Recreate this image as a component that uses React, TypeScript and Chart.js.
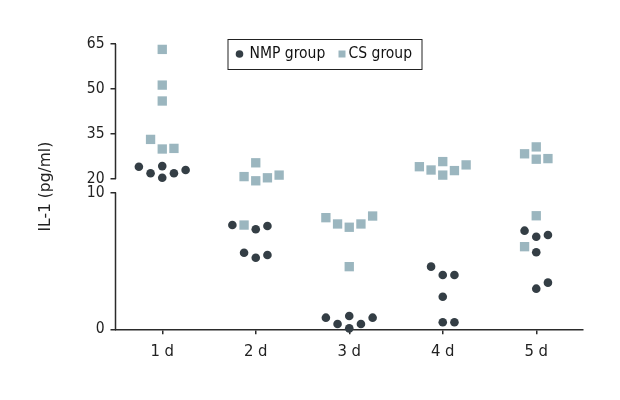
import React, { useEffect, useRef } from "react";
import { Chart, registerables } from "chart.js";

Chart.register(...registerables);

const days = ["1 d", "2 d", "3 d", "4 d", "5 d"];
const upperTicks = [20, 35, 50, 65];
const lowerTicks = [0, 10];
const yTitle = "IL-1 (pg/ml)";
const nmpLabel = "NMP group";
const csLabel = "CS group";

// values per day (pg/ml)
const nmpValues = [
  [24.1, 21.9, 24.3, 20.4, 21.9, 23.0],
  [7.62, 7.31, 7.55, 5.6, 5.23, 5.43],
  [0.85, 0.39, 0.97, 0.07, 0.39, 0.85],
  [4.58, 3.97, 3.97, 2.38, 0.51, 0.51],
  [7.21, 6.77, 6.89, 5.63, 2.97, 3.41],
];
// horizontal jitter within each day (in day units)
const nmpJitter = [
  [-0.25, -0.125, 0, 0, 0.125, 0.25],
  [-0.25, 0, 0.125, -0.125, 0, 0.125],
  [-0.25, -0.125, 0, 0, 0.125, 0.25],
  [-0.125, 0, 0.125, 0, 0, 0.125],
  [-0.125, 0, 0.125, 0, 0, 0.125],
];
const csValues = [
  [63.2, 51.3, 46.0, 33.2, 30.0, 30.2],
  [25.4, 20.8, 19.4, 20.4, 21.3, 7.62],
  [8.16, 7.7, 7.46, 7.7, 8.28, 4.58],
  [24.1, 23.0, 25.8, 21.3, 22.8, 24.7],
  [28.4, 30.7, 26.6, 26.8, 8.3, 6.04],
];
const csJitter = [
  [0, 0, 0, -0.125, 0, 0.125],
  [0, -0.125, 0, 0.125, 0.25, -0.125],
  [-0.25, -0.125, 0, 0.125, 0.25, 0],
  [-0.25, -0.125, 0, 0, 0.125, 0.25],
  [-0.125, 0, 0, 0.125, 0, -0.125],
];

const BREAK = 14; // values above this belong to the upper segment
const NMP_COLOR = "#343e45";
const CS_COLOR = "#9bb6bf";
const AXIS_COLOR = "#2b2b2b";
const COND = "'DejaVu Sans Condensed', sans-serif";
const REG = "'DejaVu Sans', sans-serif";

function points(values: number[][], jitter: number[][], upper: boolean) {
  const out: { x: number; y: number }[] = [];
  values.forEach((row, d) =>
    row.forEach((v, i) => {
      if (upper === v > BREAK) out.push({ x: d + 1 + jitter[d][i], y: v });
    })
  );
  return out;
}

const decorPlugin = {
  id: "decor",
  afterDraw(chart: any) {
    const { ctx, chartArea, scales } = chart;
    const up = scales.yTop;
    const lo = scales.yBot;
    const x = chartArea.left;
    ctx.save();
    ctx.strokeStyle = AXIS_COLOR;
    ctx.lineWidth = 1.5;
    ctx.beginPath();
    ctx.moveTo(x, up.getPixelForValue(upperTicks[upperTicks.length - 1]));
    ctx.lineTo(x, up.getPixelForValue(upperTicks[0]));
    ctx.moveTo(x, lo.getPixelForValue(lowerTicks[lowerTicks.length - 1]));
    ctx.lineTo(x, lo.getPixelForValue(lowerTicks[0]));
    ctx.stroke();

    // y title
    ctx.fillStyle = "#222";
    ctx.font = "15.5px " + REG;
    ctx.textAlign = "center";
    ctx.textBaseline = "middle";
    ctx.translate(x - 70, (chartArea.top + chartArea.bottom) / 2);
    ctx.rotate(-Math.PI / 2);
    ctx.fillText(yTitle, 0, 0);
    ctx.restore();

    // legend
    ctx.save();
    const bx = chartArea.left + 112;
    const by = chartArea.top - 5;
    const bw = 194;
    const bh = 30;
    ctx.fillStyle = "#fff";
    ctx.fillRect(bx, by, bw, bh);
    ctx.strokeStyle = "#222";
    ctx.lineWidth = 1;
    ctx.strokeRect(bx + 0.5, by + 0.5, bw, bh);
    const cy = by + bh / 2;
    ctx.fillStyle = NMP_COLOR;
    ctx.beginPath();
    ctx.arc(bx + 12, cy, 3.8, 0, Math.PI * 2);
    ctx.fill();
    ctx.fillStyle = CS_COLOR;
    ctx.fillRect(bx + 111, cy - 3.5, 7, 7);
    ctx.fillStyle = "#111";
    ctx.font = "15.5px " + COND;
    ctx.textAlign = "left";
    ctx.textBaseline = "middle";
    ctx.fillText(nmpLabel, bx + 22, cy);
    ctx.fillText(csLabel, bx + 121, cy);
    ctx.restore();
  },
};

export default function App() {
  const ref = useRef<HTMLCanvasElement>(null);
  useEffect(() => {
    document.body.style.margin = "0";
    const dotStyle = {
      type: "scatter" as const,
      backgroundColor: NMP_COLOR,
      borderWidth: 0,
      pointRadius: 4.3,
      pointStyle: "circle",
      clip: false,
    };
    const sqStyle = {
      type: "scatter" as const,
      backgroundColor: CS_COLOR,
      borderWidth: 0,
      pointRadius: 6.6,
      pointStyle: "rect",
      clip: false,
    };
    const yFont = { family: COND, size: 15.5 };
    const xFont = { family: COND, size: 16.5 };
    const chart = new Chart(ref.current!, {
      type: "scatter",
      data: {
        datasets: [
          { ...sqStyle, label: csLabel, data: points(csValues, csJitter, true), yAxisID: "yTop" },
          { ...sqStyle, label: csLabel, data: points(csValues, csJitter, false), yAxisID: "yBot" },
          { ...dotStyle, label: nmpLabel, data: points(nmpValues, nmpJitter, true), yAxisID: "yTop" },
          { ...dotStyle, label: nmpLabel, data: points(nmpValues, nmpJitter, false), yAxisID: "yBot" },
        ] as any,
      },
      options: {
        animation: false,
        responsive: false,
        layout: { padding: { left: 0, right: 37, top: 44, bottom: 0 } },
        plugins: { legend: { display: false }, tooltip: { enabled: false } },
        scales: {
          x: {
            type: "linear",
            min: 0.5,
            max: 5.5,
            afterBuildTicks: (s: any) => {
              s.ticks = days.map((_, i) => ({ value: i + 1 }));
            },
            afterFit: (s: any) => {
              s.height = 70.7;
            },
            ticks: {
              autoSkip: false,
              maxRotation: 0,
              padding: 8,
              color: "#222",
              font: xFont,
              callback: (v: any) => days[Math.round(v) - 1],
            },
            grid: { drawOnChartArea: false, drawTicks: true, tickLength: 5, color: AXIS_COLOR, lineWidth: 1.5 },
            border: { display: true, color: AXIS_COLOR, width: 1.5 },
          },
          yBot: {
            type: "linear",
            position: "left",
            stack: "ybreak",
            stackWeight: 136.8,
            min: 0,
            max: 10,
            afterBuildTicks: (s: any) => {
              s.ticks = lowerTicks.map((v) => ({ value: v }));
            },
            afterFit: (s: any) => {
              s.width = 115.5;
            },
            ticks: { padding: 6, color: "#222", font: yFont, autoSkip: false },
            grid: { drawOnChartArea: false, drawTicks: true, tickLength: 5, color: AXIS_COLOR, lineWidth: 1.5 },
            border: { display: false },
          },
          yTop: {
            type: "linear",
            position: "left",
            stack: "ybreak",
            stackWeight: 148.5,
            min: 15.5,
            max: 65,
            afterBuildTicks: (s: any) => {
              s.ticks = upperTicks.map((v) => ({ value: v }));
            },
            afterFit: (s: any) => {
              s.width = 115.5;
            },
            ticks: { padding: 6, color: "#222", font: yFont, autoSkip: false },
            grid: { drawOnChartArea: false, drawTicks: true, tickLength: 5, color: AXIS_COLOR, lineWidth: 1.5 },
            border: { display: false },
          },
        } as any,
      },
      plugins: [decorPlugin],
    });
    return () => chart.destroy();
  }, []);
  return (
    <div style={{ width: 620, height: 400, background: "#fff" }}>
      <canvas ref={ref} width={620} height={400} />
    </div>
  );
}
